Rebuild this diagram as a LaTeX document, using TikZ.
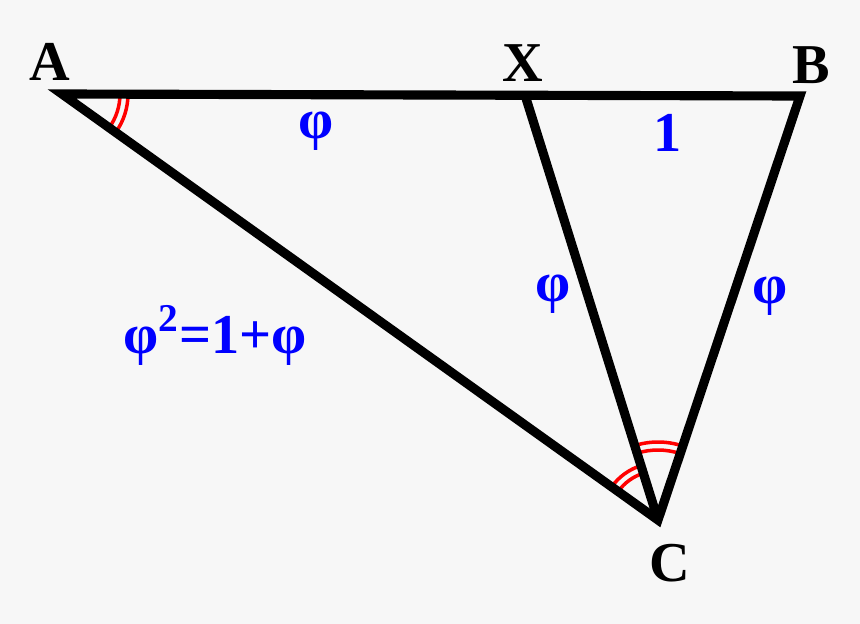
\documentclass[tikz,border=0pt]{standalone}
\usepackage{fontspec}
\setmainfont{Liberation Serif}
\begin{document}
\begin{tikzpicture}[x=0.01cm, y=-0.01cm, line join=miter, font=\fontsize{16}{19}\selectfont\bfseries]
		\def\lw{2.6pt} %black sides
		\def\rw{1pt} %red arcs
		\tikzset{vlabel/.style={text=black, inner sep=0pt},
			len/.style={text=blue, inner sep=0pt},
			arcmark/.style={red, line width=\rw}}
		\fill[black!3] (0,0) rectangle (860,624);
		\useasboundingbox (0,0) rectangle (860,624);
		\coordinate (A) at (62,94);
		\coordinate (X) at (525,95);
		\coordinate (B) at (800,96);
		\coordinate (C) at (658,520);
		\draw[arcmark] ([shift={(0:58)}]A) arc (0:35.6:58);
		\draw[arcmark] ([shift={(0:66)}]A) arc (0:35.6:66);
		\draw[arcmark] ([shift={(-144.4:49)}]C) arc (-144.4:-107.3:49);
		\draw[arcmark] ([shift={(-144.4:57)}]C) arc (-144.4:-107.3:57);
		\draw[arcmark] ([shift={(-107.3:70)}]C) arc (-107.3:-71.6:70);
		\draw[arcmark] ([shift={(-107.3:78)}]C) arc (-107.3:-71.6:78);
		\draw[line width=\lw] (A) -- (B) -- (C) -- cycle;
		\draw[line width=\lw] (X) -- (C);
		\node[vlabel] (lA) at (50,62) {A};
		\node[vlabel] (lX) at (523,63) {X};
		\node[vlabel] (lB) at (811,65) {B};
		\node[vlabel] (lC) at (670,563) {C};
		\node[len] (AX) at (316,131) {φ};
		\node[len] (XB) at (668,133) {1};
		\node[len] (XC) at (553,294) {φ};
		\node[len] (BC) at (770,296) {φ};
		\node[len] (AC) at (215,335) {φ\textsuperscript{2}=1+φ};
\end{tikzpicture}
\end{document}
